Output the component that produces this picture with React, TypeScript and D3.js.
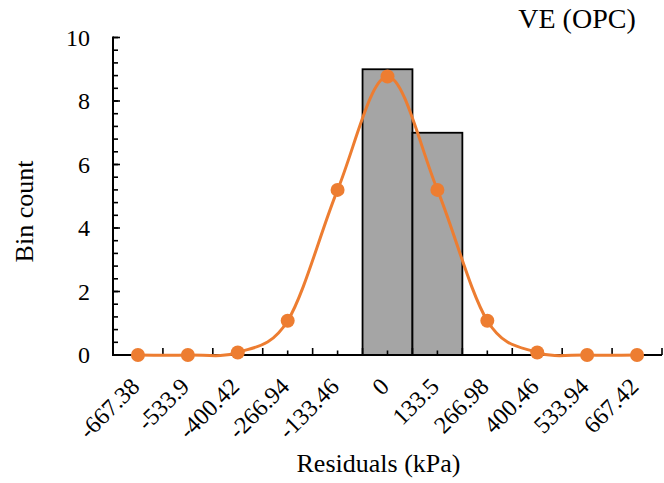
import React, { useEffect, useRef } from "react";
import * as d3 from "d3";

// Histogram of residuals with a fitted normal curve
const categories = [
  "-667.38", "-533.9", "-400.42", "-266.94", "-133.46", "0",
  "133.5", "266.98", "400.46", "533.94", "667.42",
];
const binCounts = [0, 0, 0, 0, 0, 9, 7, 0, 0, 0, 0];
const normalCurve = [0, 0, 0.08, 1.08, 5.2, 8.77, 5.2, 1.08, 0.08, 0, 0];
const yTicks = [0, 2, 4, 6, 8, 10];

const W = 664;
const H = 483;
const FONT = "'Liberation Serif', 'Times New Roman', serif";
const ORANGE = "#ED7D31";

export default function App() {
  const ref = useRef<SVGSVGElement | null>(null);

  useEffect(() => {
    const svg = d3.select(ref.current);
    svg.selectAll("*").remove();

    const left = 113;
    const right = 662;
    const top = 37.5;
    const bottom = 355;

    const x = d3.scaleBand<string>().domain(categories).range([left, right]).padding(0);
    const y = d3.scaleLinear().domain([0, 10]).range([bottom, top]);
    const bw = x.bandwidth();
    const cx = (c: string) => (x(c) as number) + bw / 2;

    // Bars
    svg
      .append("g")
      .selectAll("rect")
      .data(categories.map((c, i) => ({ c, v: binCounts[i] })).filter((d) => d.v > 0))
      .join("rect")
      .attr("x", (d) => x(d.c) as number)
      .attr("y", (d) => y(d.v))
      .attr("width", bw)
      .attr("height", (d) => y(0) - y(d.v))
      .attr("fill", "#A5A5A5")
      .attr("stroke", "#000")
      .attr("stroke-width", 1.8);

    // Axes
    const axes = svg.append("g").attr("stroke", "#000");
    axes
      .append("line")
      .attr("x1", left)
      .attr("x2", left)
      .attr("y1", top - 1)
      .attr("y2", bottom + 1)
      .attr("stroke-width", 2);
    axes
      .append("line")
      .attr("x1", left - 1)
      .attr("x2", right)
      .attr("y1", bottom)
      .attr("y2", bottom)
      .attr("stroke-width", 2);

    // Y ticks: major every 2, minor every 0.4
    const minorY = d3.range(0, 10.001, 0.4).filter((v) => v > 0.01);
    axes
      .selectAll("line.ymin")
      .data(minorY)
      .join("line")
      .attr("x1", left)
      .attr("x2", left + 5)
      .attr("y1", (d) => y(d))
      .attr("y2", (d) => y(d))
      .attr("stroke-width", 1.6);
    axes
      .selectAll("line.ymaj")
      .data(yTicks.filter((v) => v > 0))
      .join("line")
      .attr("x1", left)
      .attr("x2", left + 7)
      .attr("y1", (d) => y(d))
      .attr("y2", (d) => y(d))
      .attr("stroke-width", 1.6);

    // X ticks: major at band edges, minor at band centres
    const edges = categories.slice(1).map((c) => x(c) as number).concat([right]);
    axes
      .selectAll("line.xmaj")
      .data(edges)
      .join("line")
      .attr("x1", (d) => d)
      .attr("x2", (d) => d)
      .attr("y1", bottom)
      .attr("y2", bottom - 7)
      .attr("stroke-width", 1.6);
    axes
      .selectAll("line.xmin")
      .data(categories)
      .join("line")
      .attr("x1", (d) => cx(d))
      .attr("x2", (d) => cx(d))
      .attr("y1", bottom)
      .attr("y2", bottom - 4.5)
      .attr("stroke-width", 1.6);

    // Fitted curve
    const line = d3
      .line<number>()
      .x((_, i) => cx(categories[i]))
      .y((d) => y(d))
      .curve(d3.curveCardinal.tension(0));
    svg
      .append("path")
      .attr("d", line(normalCurve))
      .attr("fill", "none")
      .attr("stroke", ORANGE)
      .attr("stroke-width", 3);
    svg
      .append("g")
      .selectAll("circle")
      .data(normalCurve)
      .join("circle")
      .attr("cx", (_, i) => cx(categories[i]))
      .attr("cy", (d) => y(d))
      .attr("r", 7)
      .attr("fill", ORANGE);

    // Tick labels
    svg
      .append("g")
      .selectAll("text")
      .data(yTicks)
      .join("text")
      .attr("x", 90)
      .attr("y", (d) => y(d))
      .attr("dy", "0.35em")
      .attr("text-anchor", "end")
      .attr("font-family", FONT)
      .attr("font-size", 24)
      .attr("fill", "#000")
      .text((d) => String(d));

    svg
      .append("g")
      .selectAll("text")
      .data(categories)
      .join("text")
      .attr("transform", (d) => `translate(${cx(d) + 3},${388}) rotate(-45)`)
      .attr("text-anchor", "end")
      .attr("font-family", FONT)
      .attr("font-size", 24)
      .attr("fill", "#000")
      .text((d) => d);

    // Titles
    svg
      .append("text")
      .attr("x", 378.5)
      .attr("y", 472)
      .attr("text-anchor", "middle")
      .attr("font-family", FONT)
      .attr("font-size", 26)
      .attr("fill", "#000")
      .text("Residuals (kPa)");
    svg
      .append("text")
      .attr("transform", "translate(33,211.5) rotate(-90)")
      .attr("text-anchor", "middle")
      .attr("font-family", FONT)
      .attr("font-size", 26)
      .attr("fill", "#000")
      .text("Bin count");
    svg
      .append("text")
      .attr("x", 577)
      .attr("y", 28)
      .attr("text-anchor", "middle")
      .attr("font-family", FONT)
      .attr("font-size", 28)
      .attr("fill", "#000")
      .text("VE (OPC)");
  }, []);

  return (
    <svg
      ref={ref}
      width={W}
      height={H}
      style={{ position: "absolute", left: 0, top: 0, background: "#fff" }}
    />
  );
}
